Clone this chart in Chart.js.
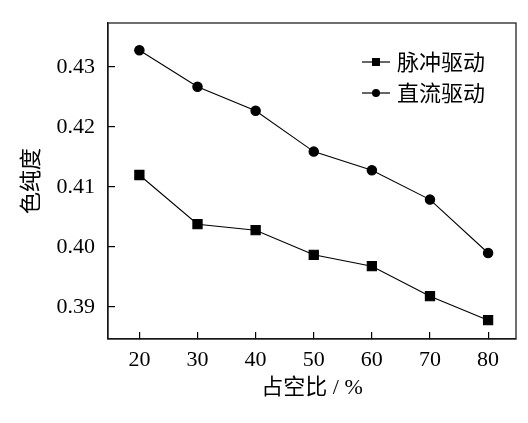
<!DOCTYPE html>
<html>
<head>
<meta charset="utf-8">
<script src="https://cdn.jsdelivr.net/npm/chart.js@4.4.0/dist/chart.umd.min.js"></script>
<style>
html,body{margin:0;padding:0;background:#fff;}
#wrap{width:528px;height:423px;}
</style>
</head>
<body>
<div id="wrap"><canvas id="c" width="528" height="423"></canvas></div>
<script>
const dutyRatio = [20, 30, 40, 50, 60, 70, 80];
const pulseDrive = [0.4120, 0.4038, 0.4028, 0.3987, 0.3968, 0.3918, 0.3878];
const dcDrive = [0.4328, 0.4267, 0.4227, 0.4159, 0.4128, 0.4079, 0.3990];
const xTicks = [20, 30, 40, 50, 60, 70, 80];
const yTicks = [0.39, 0.40, 0.41, 0.42, 0.43];
const seriesNames = ['脉冲驱动', '直流驱动'];
const xTitle = '占空比 / %';
const yTitle = '色纯度';

const serif = '"Liberation Serif", "Noto Sans CJK SC", serif';
const cjkFont = '"Noto Sans CJK SC", sans-serif';

Chart.defaults.font.family = serif;
Chart.defaults.font.size = 22;
Chart.defaults.color = '#000';

const boxPlugin = {
  id: 'box',
  afterDraw(chart) {
    const {ctx, chartArea: a} = chart;
    ctx.save();
    ctx.strokeStyle = '#222';
    ctx.lineWidth = 1.3;
    ctx.strokeRect(a.left, a.top, a.right - a.left, a.bottom - a.top);
    ctx.restore();
  }
};

const legendPlugin = {
  id: 'innerLegend',
  afterDraw(chart) {
    const {ctx} = chart;
    const x0 = 362, x1 = 390, tx = 397;
    const rows = [62, 93];
    ctx.save();
    chart.data.datasets.forEach((ds, i) => {
      const y = rows[i];
      ctx.strokeStyle = '#000';
      ctx.lineWidth = 1.2;
      ctx.beginPath();
      ctx.moveTo(x0, y); ctx.lineTo(x1, y); ctx.stroke();
      ctx.fillStyle = '#000';
      const cx = (x0 + x1) / 2;
      if (ds.pointStyle === 'rect') {
        ctx.fillRect(cx - 4, y - 4, 8, 8);
      } else {
        ctx.beginPath(); ctx.arc(cx, y, 4, 0, Math.PI * 2); ctx.fill();
      }
      ctx.font = '22px ' + cjkFont;
      ctx.textBaseline = 'middle';
      ctx.textAlign = 'left';
      ctx.fillText(ds.label, tx, y);
    });
    ctx.restore();
  }
};

function build() {
  new Chart(document.getElementById('c'), {
    type: 'line',
    data: {
      datasets: [
        {
          label: seriesNames[0],
          data: dutyRatio.map((x, i) => ({x, y: pulseDrive[i]})),
          borderColor: '#000', backgroundColor: '#000', borderWidth: 1.1,
          pointStyle: 'rect', pointRadius: 6.5, pointHoverRadius: 6.5, tension: 0
        },
        {
          label: seriesNames[1],
          data: dutyRatio.map((x, i) => ({x, y: dcDrive[i]})),
          borderColor: '#000', backgroundColor: '#000', borderWidth: 1.1,
          pointStyle: 'circle', pointRadius: 4.7, pointHoverRadius: 4.7, tension: 0
        }
      ]
    },
    options: {
      responsive: false,
      animation: false,
      devicePixelRatio: 1,
      layout: {padding: {left: 0, right: 12, top: 23, bottom: 0}},
      plugins: {legend: {display: false}, tooltip: {enabled: false}},
      scales: {
        x: {
          type: 'linear',
          min: 14.6, max: 84.8,
          afterBuildTicks(s) { s.ticks = xTicks.map(v => ({value: v})); },
          afterFit(s) { s.height = 84; s.paddingLeft = 0; s.paddingRight = 0; },
          grid: {drawOnChartArea: false, drawTicks: true, tickLength: -7, color: '#000', lineWidth: 1.2},
          border: {display: true, color: '#000', width: 1.3},
          ticks: {color: '#000', font: {family: serif, size: 22}, padding: 15, maxRotation: 0,
                  callback: v => String(v)},
          title: {display: true, text: xTitle, color: '#000', font: {family: serif, size: 22},
                  padding: {top: 0, bottom: 22}}
        },
        y: {
          type: 'linear',
          min: 0.38467, max: 0.43733,
          afterBuildTicks(s) { s.ticks = yTicks.map(v => ({value: v})); },
          afterFit(s) { s.width = 108; s.paddingTop = 0; s.paddingBottom = 0; },
          grid: {drawOnChartArea: false, drawTicks: true, tickLength: -7, color: '#000', lineWidth: 1.2},
          border: {display: true, color: '#000', width: 1.3},
          ticks: {color: '#000', font: {family: serif, size: 22}, padding: 20,
                  callback: v => Number(v).toFixed(2)},
          title: {display: true, text: yTitle, color: '#000', font: {family: serif, size: 22},
                  padding: {top: 19, bottom: 0}}
        }
      }
    },
    plugins: [boxPlugin, legendPlugin]
  });
}

Promise.all([
  document.fonts.load('22px "Liberation Serif"', '0123456789./%'),
  document.fonts.load('22px "Noto Sans CJK SC"', '脉冲驱动直流占空比色纯度')
]).catch(() => {}).then(build);
</script>
</body>
</html>
